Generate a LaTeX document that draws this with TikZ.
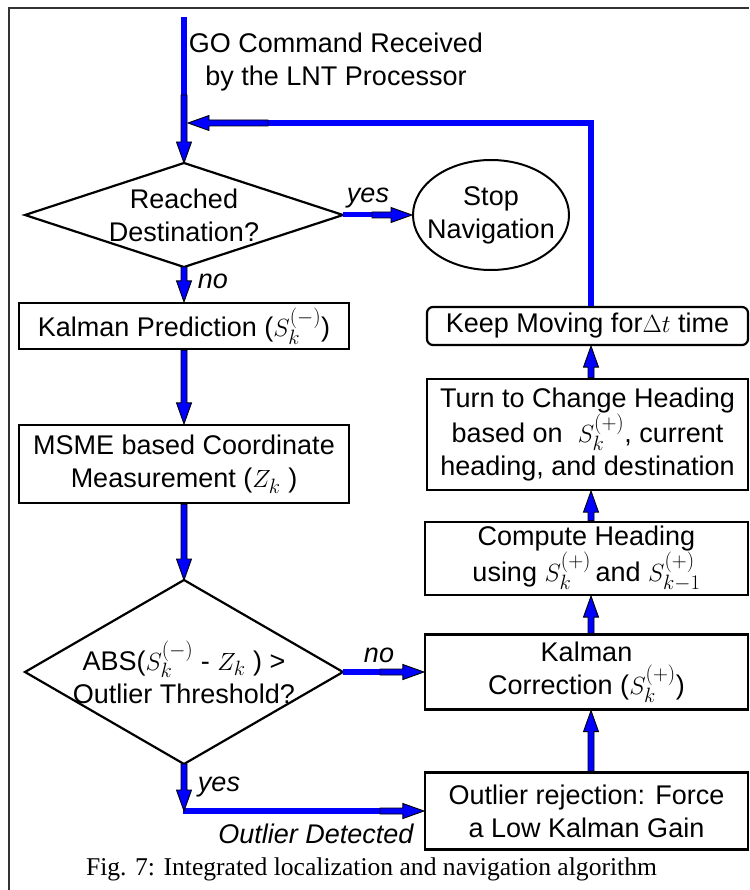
\documentclass[tikz,border=0pt]{standalone}
\usepackage{fontspec}
\setmainfont{Liberation Sans}
\newfontfamily\capfont{Liberation Serif}
\usetikzlibrary{calc,shapes.geometric}
\tikzset{
 box/.style={draw=black, line width=2.2pt, align=center, inner sep=0pt, font=\fontsize{27}{33}\selectfont},
 txt/.style={align=center, inner sep=0pt, font=\fontsize{27}{33}\selectfont},
 lbl/.style={inner sep=0pt, anchor=base, font=\fontsize{27}{33}\selectfont\itshape},
 blueline/.style={draw=blue, line width=6.5pt},
 arrowbox/.style={draw=black, fill=blue, line width=0.9pt, line join=miter},
 shapeline/.style={draw=black, line width=2.2pt, line join=miter},
}
\newcommand\mth[1]{{\fontsize{31}{33}\selectfont$#1$}}
\newcommand\barrow[2]{%
  \coordinate (hb) at ($#2!21pt!#1$);
  \path[arrowbox] ($#1!3pt!90:#2$) -- ($(hb)!3pt!-90:#1$) -- ($(hb)!7.5pt!-90:#1$) -- #2 -- ($(hb)!7.5pt!90:#1$) -- ($(hb)!3pt!90:#1$) -- ($#1!3pt!-90:#2$) -- cycle;}
\begin{document}
\begin{tikzpicture}[x=1pt,y=-1pt]
\useasboundingbox (0,0) rectangle (749,890);
% frame
\draw[line width=1.6pt, black!80] (9,890) -- (9,8) -- (749,8);

% top text
\node[txt] (go) at (336,62) {GO Command Received\\by the LNT Processor};

% diamond 1
\coordinate (d1c) at (184,215);
\coordinate (d1t) at (184,163);
\coordinate (d1b) at (184,267);
\coordinate (d1l) at (25,215);
\coordinate (d1r) at (343,215);
\draw[shapeline] (d1t) -- (d1r) -- (d1b) -- (d1l) -- cycle;
\node[txt] (d1txt) at (d1c) {Reached\\Destination?};

% stop ellipse
\node[draw=black, line width=2pt, ellipse, minimum width=156pt, minimum height=110pt, inner sep=0pt] (stop) at (491,215) {};
\node[txt] (stoptxt) at (stop.center) {Stop\\Navigation};

% left column boxes
\node[box, minimum width=330pt, minimum height=46pt] (kp) at (184,326) {Kalman Prediction (\mth{S_k^{(-)}})};
\node[box, minimum width=330pt, minimum height=78pt] (msme) at (184,464) {MSME based Coordinate\\Measurement (\mth{Z_k} )};

% diamond 2
\coordinate (d2c) at (184,672);
\coordinate (d2t) at (184,580);
\coordinate (d2b) at (184,764);
\coordinate (d2l) at (25,672);
\coordinate (d2r) at (343,672);
\draw[shapeline] (d2t) -- (d2r) -- (d2b) -- (d2l) -- cycle;
\node[txt] (d2txt) at (d2c) {ABS(\mth{S_k^{(-)}} - \mth{Z_k} ) >\\Outlier Threshold?};

% right column boxes
\node[box, rounded corners=6pt, minimum width=321pt, minimum height=38pt] (keep) at (587.5,326) {Keep Moving for\mth{\Delta t} time};
\node[box, minimum width=321pt, minimum height=111pt] (turn) at (587.5,434.5) {Turn to Change Heading\\based on\ \ \mth{S_k^{(+)}}, current\\heading, and destination};
\node[box, minimum width=323pt, minimum height=73pt] (comp) at (586.5,558.5) {Compute Heading\\using \mth{S_k^{(+)}}\,and \mth{S_{k-1}^{(+)}}};
\node[box, minimum width=323pt, minimum height=75pt] (corr) at (586.5,672) {Kalman\\Correction (\mth{S_k^{(+)}})};
\node[box, minimum width=323pt, minimum height=77pt] (outl) at (586.5,811) {Outlier rejection: Force\\a Low Kalman Gain};

% caption
\node[inner sep=0pt, anchor=base, font=\capfont\fontsize{25.6}{30}\selectfont] (cap) at (371.5,875) {Fig. 7: Integrated localization and navigation algorithm};

% top entry
\coordinate (gostart) at (184,17);
\coordinate (gojoin) at (184,95);
\draw[blueline] (gostart) -- (gojoin);
\barrow{(gojoin)}{(d1t)}

% return path
\coordinate (kn) at ([xshift=3.5pt]keep.north);
\coordinate (rcorner) at (591,123);
\coordinate (rmid) at (268,123);
\coordinate (rtip) at (188,123);
\draw[blueline] (kn) -- (rcorner) -- (rmid);
\barrow{(rmid)}{(rtip)}

% yes to stop
\coordinate (y1m) at (372,215);
\draw[blueline, line width=5pt] (d1r) -- (y1m);
\barrow{(y1m)}{(stop.west)}

% left chain
\barrow{(d1b)}{(kp.north)}
\barrow{(kp.south)}{(msme.north)}
\barrow{(msme.south)}{(d2t)}

% no to correction
\coordinate (n2m) at (380,672);
\draw[blueline] (d2r) -- (n2m);
\barrow{(n2m)}{(corr.west)}

% yes to outlier
\coordinate (ycorner) at (184,811);
\coordinate (y2m) at (380,811);
\draw[blueline] ([xshift=-1pt]ycorner) -- (y2m);
\barrow{(d2b)}{(ycorner)}
\barrow{(y2m)}{(outl.west)}

% right chain
\coordinate (on) at ([xshift=4.5pt]outl.north);
\coordinate (cs) at ([xshift=4.5pt]corr.south);
\coordinate (cn) at ([xshift=4.5pt]corr.north);
\coordinate (ps) at ([xshift=4.5pt]comp.south);
\coordinate (pn) at ([xshift=4.5pt]comp.north);
\coordinate (ts) at ([xshift=3.5pt]turn.south);
\coordinate (tn) at ([xshift=3.5pt]turn.north);
\coordinate (ks) at ([xshift=3.5pt]keep.south);
\barrow{(on)}{(cs)}
\barrow{(cn)}{(ps)}
\barrow{(pn)}{(ts)}
\barrow{(tn)}{(ks)}

% labels
\node[lbl] (lyes1) at (368,203) {yes};
\node[lbl] (lno1) at (213,288) {no};
\node[lbl] (lno2) at (379,662) {no};
\node[lbl] (lyes2) at (219,791) {yes};
\node[lbl] (lout) at (316,843) {Outlier Detected};
\end{tikzpicture}
\end{document}
